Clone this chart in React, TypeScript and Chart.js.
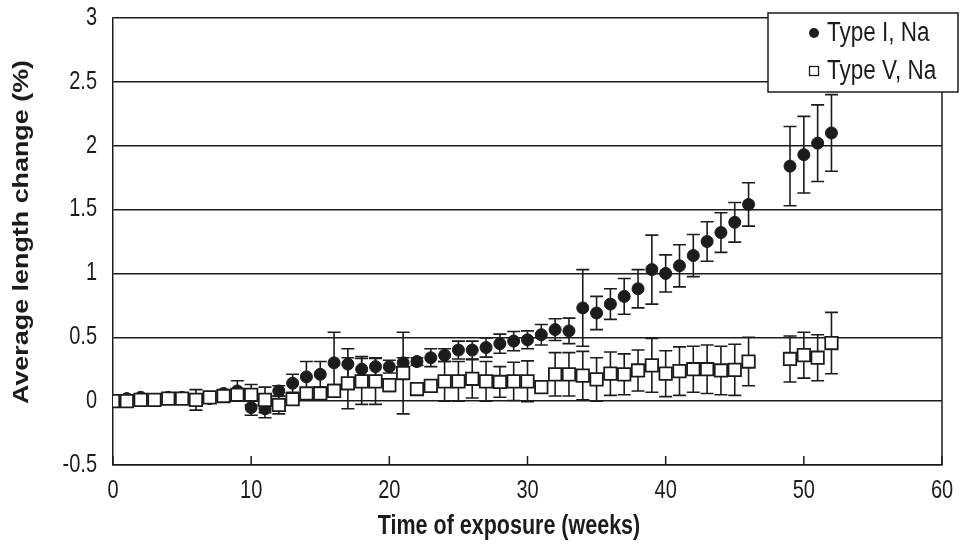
import React, { useEffect, useRef } from "react";
import { Chart, registerables } from "chart.js";

Chart.register(...registerables);

// ---- data ----
const weeks = [
  0, 1, 2, 3, 4, 5, 6, 7, 8, 9, 10, 11, 12, 13, 14, 15, 16, 17, 18, 19, 20,
  21, 22, 23, 24, 25, 26, 27, 28, 29, 30, 31, 32, 33, 34, 35, 36, 37, 38, 39,
  40, 41, 42, 43, 44, 45, 46, 49, 50, 51, 52,
];
const typeI = [
  0.0, 0.02, 0.03, 0.01, 0.03, 0.03, 0.01, 0.02, 0.06, 0.08, -0.05, -0.06,
  0.08, 0.14, 0.19, 0.21, 0.3, 0.29, 0.25, 0.27, 0.27, 0.3, 0.31, 0.34, 0.36,
  0.4, 0.4, 0.42, 0.45, 0.47, 0.48, 0.52, 0.56, 0.55, 0.73, 0.69, 0.76, 0.82,
  0.88, 1.03, 1.0, 1.06, 1.14, 1.25, 1.32, 1.4, 1.54, 1.84, 1.93, 2.02, 2.1,
];
const typeIErr = [
  0, 0.01, 0.01, 0.01, 0.01, 0.01, 0.03, 0.01, 0.03, 0.08, 0.06, 0.07, 0.04,
  0.07, 0.12, 0.1, 0.24, 0.12, 0.1, 0.07, 0.05, 0.04, 0.03, 0.07, 0.05, 0.07,
  0.07, 0.075, 0.075, 0.075, 0.07, 0.08, 0.085, 0.1, 0.3, 0.13, 0.12, 0.14,
  0.15, 0.27, 0.145, 0.165, 0.165, 0.155, 0.155, 0.155, 0.17, 0.31, 0.3, 0.3,
  0.3,
];
const typeV = [
  0.0, 0.0, 0.01, 0.01, 0.02, 0.02, 0.01, 0.03, 0.04, 0.05, 0.05, 0.01, -0.03,
  0.015, 0.06, 0.06, 0.08, 0.14, 0.155, 0.155, 0.125, 0.22, 0.095, 0.12, 0.155,
  0.155, 0.175, 0.155, 0.15, 0.155, 0.155, 0.11, 0.21, 0.21, 0.2, 0.17, 0.215,
  0.21, 0.24, 0.28, 0.215, 0.235, 0.25, 0.25, 0.24, 0.245, 0.31, 0.33, 0.36,
  0.34, 0.455,
];
const typeVErr = [
  0, 0, 0, 0, 0, 0, 0.08, 0, 0, 0.02, 0.08, 0.1, 0.07, 0.02, 0.03, 0.03, 0.05,
  0.2, 0.18, 0.18, 0.05, 0.32, 0, 0, 0.155, 0.155, 0.15, 0.155, 0.12, 0.15,
  0.16, 0, 0.17, 0.17, 0.19, 0.17, 0.17, 0.16, 0.16, 0.21, 0.18, 0.19, 0.18,
  0.19, 0.19, 0.2, 0.19, 0.18, 0.18, 0.18, 0.24,
];
const seriesNames = ["Type I, Na", "Type V, Na"];
const xTicks = [0, 10, 20, 30, 40, 50, 60];
const xTickLabels = ["0", "10", "20", "30", "40", "50", "60"];
const yTicks = [-0.5, 0, 0.5, 1, 1.5, 2, 2.5, 3];
const yTickLabels = ["-0.5", "0", "0.5", "1", "1.5", "2", "2.5", "3"];
const xTitle = "Time of exposure (weeks)";
const yTitle = "Average length change (%)";

// ---- style ----
const FONT = '"Liberation Sans", Arial, Helvetica, sans-serif';
const INK = "#1c1c1c";
const STRETCH = 1.25;

function drawText(
  ctx: CanvasRenderingContext2D,
  text: string,
  x: number,
  y: number,
  size: number,
  weight: string,
  align: CanvasTextAlign,
  rotated = false
) {
  ctx.save();
  ctx.translate(x, y);
  if (rotated) {
    ctx.rotate(-Math.PI / 2);
    ctx.scale(STRETCH, 1);
  } else {
    ctx.scale(1, STRETCH);
  }
  ctx.font = `${weight} ${size}px ${FONT}`;
  ctx.textAlign = align;
  ctx.textBaseline = "middle";
  ctx.fillStyle = INK;
  ctx.fillText(text, 0, 0);
  ctx.restore();
}

const errorBarPlugin = {
  id: "errorBars",
  beforeDatasetDraw(chart: any, args: any) {
    const ds = chart.data.datasets[args.index];
    const errs: number[] = ds.errors || [];
    const xs = chart.scales.x;
    const ys = chart.scales.y;
    const ctx: CanvasRenderingContext2D = chart.ctx;
    ctx.save();
    ctx.strokeStyle = INK;
    ctx.lineWidth = 1.6;
    ds.data.forEach((p: any, i: number) => {
      const e = errs[i];
      if (!e) return;
      const x = xs.getPixelForValue(p.x);
      const yt = ys.getPixelForValue(p.y + e);
      const yb = ys.getPixelForValue(p.y - e);
      ctx.beginPath();
      ctx.moveTo(x, yt);
      ctx.lineTo(x, yb);
      ctx.moveTo(x - 6.5, yt);
      ctx.lineTo(x + 6.5, yt);
      ctx.moveTo(x - 6.5, yb);
      ctx.lineTo(x + 6.5, yb);
      ctx.stroke();
    });
    ctx.restore();
  },
};

const decorPlugin = {
  id: "decor",
  afterDraw(chart: any) {
    const ctx: CanvasRenderingContext2D = chart.ctx;
    const { right, top, bottom } = chart.chartArea;
    const xs = chart.scales.x;
    const ys = chart.scales.y;
    ctx.save();
    ctx.strokeStyle = INK;
    ctx.lineWidth = 1.5;
    // right border
    ctx.beginPath();
    ctx.moveTo(right, top);
    ctx.lineTo(right, bottom);
    ctx.stroke();
    // inward x ticks
    xTicks.forEach((v) => {
      const x = xs.getPixelForValue(v);
      ctx.beginPath();
      ctx.moveTo(x, bottom);
      ctx.lineTo(x, bottom - 9);
      ctx.stroke();
    });
    ctx.restore();

    // tick labels
    yTicks.forEach((v, i) => {
      drawText(ctx, yTickLabels[i], 97, ys.getPixelForValue(v), 20, "normal", "right");
    });
    xTicks.forEach((v, i) => {
      drawText(ctx, xTickLabels[i], xs.getPixelForValue(v), 491, 20, "normal", "center");
    });
    // titles
    drawText(ctx, xTitle, 509, 527, 21.5, "bold", "center");
    drawText(ctx, yTitle, 22, 232, 21.5, "bold", "center", true);

    // legend
    const bx = 768, by = 13, bw = 190, bh = 79;
    ctx.save();
    ctx.fillStyle = "#fff";
    ctx.fillRect(bx, by, bw, bh);
    ctx.strokeStyle = INK;
    ctx.lineWidth = 1.5;
    ctx.strokeRect(bx, by, bw, bh);
    // circle marker
    ctx.fillStyle = INK;
    ctx.beginPath();
    ctx.arc(814, 33, 5, 0, Math.PI * 2);
    ctx.fill();
    // square marker
    ctx.fillStyle = "#fff";
    ctx.lineWidth = 1.3;
    ctx.fillRect(809.5, 66.5, 9, 9);
    ctx.strokeRect(809.5, 66.5, 9, 9);
    ctx.restore();
    drawText(ctx, seriesNames[0], 827, 33, 22.5, "normal", "left");
    drawText(ctx, seriesNames[1], 827, 71, 22.5, "normal", "left");
  },
};

export default function App() {
  const ref = useRef<HTMLCanvasElement | null>(null);
  useEffect(() => {
    if (!ref.current) return;
    const chart = new Chart(ref.current, {
      type: "scatter",
      data: {
        datasets: [
          {
            label: seriesNames[0],
            data: weeks.map((w, i) => ({ x: w, y: typeI[i] })),
            errors: typeIErr,
            pointStyle: "circle",
            pointRadius: 6,
            backgroundColor: INK,
            borderColor: INK,
            borderWidth: 1,
            order: 1,
          } as any,
          {
            label: seriesNames[1],
            data: weeks.map((w, i) => ({ x: w, y: typeV[i] })),
            errors: typeVErr,
            pointStyle: "rect",
            pointRadius: 8.8,
            backgroundColor: "#ffffff",
            borderColor: INK,
            borderWidth: 1.8,
            order: 0,
          } as any,
        ],
      },
      options: {
        animation: false,
        responsive: false,
        events: [],
        layout: { padding: { left: 0, top: 18, right: 20, bottom: 0 } },
        plugins: { legend: { display: false }, tooltip: { enabled: false } },
        scales: {
          x: {
            type: "linear",
            min: 0,
            max: 60,
            ticks: { display: false, stepSize: 10 },
            grid: { display: false, drawTicks: false },
            border: { display: true, color: INK, width: 1.5 },
            afterFit: (s: any) => {
              s.height = 82;
            },
          },
          y: {
            type: "linear",
            min: -0.5,
            max: 3,
            ticks: { display: false, stepSize: 0.5 },
            grid: { color: INK, lineWidth: 1.5, drawTicks: false },
            border: { display: true, color: INK, width: 1.5 },
            afterFit: (s: any) => {
              s.width = 113;
            },
          },
        },
      } as any,
      plugins: [errorBarPlugin, decorPlugin],
    });
    return () => chart.destroy();
  }, []);
  return (
    <div style={{ position: "fixed", left: 0, top: 0, width: 962, height: 547, background: "#fff" }}>
      <canvas ref={ref} width={962} height={547} style={{ width: 962, height: 547, display: "block" }} />
    </div>
  );
}
